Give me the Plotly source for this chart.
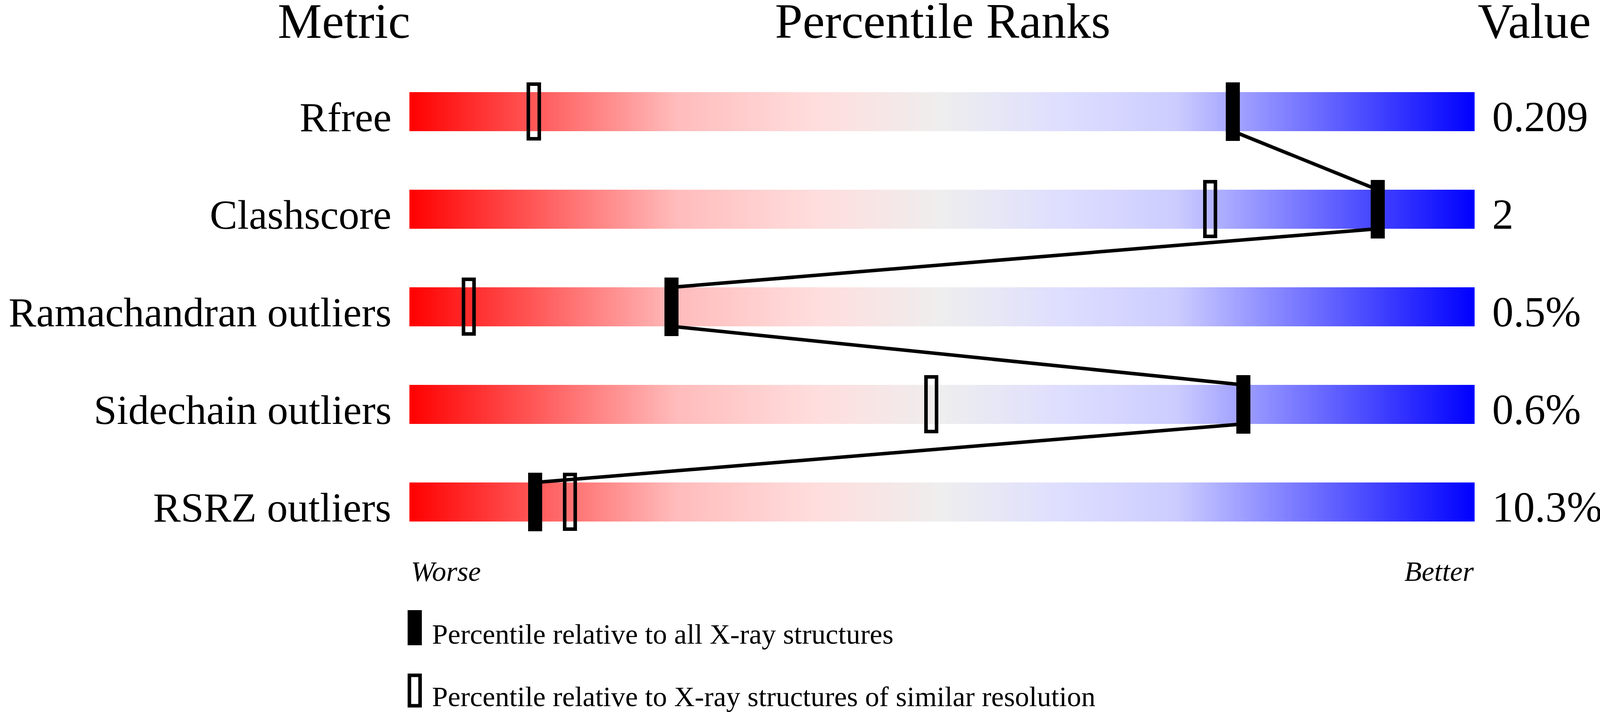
import numpy as np
import plotly.graph_objects as go

metrics = ["Rfree", "Clashscore", "Ramachandran outliers", "Sidechain outliers", "RSRZ outliers"]
values = ["0.209", "2", "0.5%", "0.6%", "10.3%"]
pct_all = [77.3, 90.9, 24.6, 78.3, 11.8]       # relative to all X-ray structures
pct_similar = [11.7, 75.2, 5.6, 49.0, 15.1]    # relative to similar resolution

RW, H = 4506, 1824
W = 4096
S = W / RW
FONT = "Liberation Serif"
rows = list(range(len(metrics)))

# gradient used in every slider
scale = [[0.0, "#ff0000"], [0.25, "#ffbbbb"], [0.38, "#ffdddd"], [0.5, "#eeeeee"],
         [0.62, "#ddddff"], [0.72, "#ccccff"], [1.0, "#0000ff"]]
edges = np.linspace(0, 100, 601)
mids = (edges[:-1] + edges[1:]) / 2

fig = go.Figure()
for r in rows:
    fig.add_trace(go.Heatmap(
        x=edges, y=[r - 0.2, r + 0.2], z=[mids],
        colorscale=scale, zmin=0, zmax=100, showscale=False, hoverinfo="skip",
    ))

# filled markers
fig.add_trace(go.Bar(
    x=pct_all, y=[0.6] * len(rows), base=[r - 0.3 for r in rows], width=40 / 30,
    marker=dict(color="black", line=dict(width=0)), hoverinfo="skip",
))
# open markers
fig.add_trace(go.Bar(
    x=pct_similar, y=[0.56] * len(rows), base=[r - 0.28 for r in rows], width=1.0,
    marker=dict(color="rgba(0,0,0,0)", line=dict(color="black", width=10 * S)),
    hoverinfo="skip",
))

# zig-zag line between the filled markers
lx, ly = [], []
for i in range(len(rows) - 1):
    lx += [pct_all[i], pct_all[i + 1]]
    ly += [rows[i] + 0.2, rows[i + 1] - 0.2]
fig.add_trace(go.Scatter(x=lx, y=ly, mode="lines", line=dict(color="black", width=9),
                         hoverinfo="skip"))


def py(px):
    return 1 - px / H


f_lab = 106
f_val = 120 * S
f_title = 140 * S
f_small = 80 * S

ann = []
for r, m, v in zip(rows, metrics, values):
    ann.append(dict(x=1104 / RW, xref="paper", y=r, yref="y", text=m, showarrow=False,
                    xanchor="right", yanchor="middle", yshift=-(50 - 0.3375 * f_lab),
                    font=dict(family=FONT, size=f_lab, color="black")))
    ann.append(dict(x=4200 / RW, xref="paper", y=r, yref="y", text=v, showarrow=False,
                    xanchor="left", yanchor="middle", yshift=-(50 - 0.3375 * f_val),
                    font=dict(family=FONT, size=f_val, color="black")))

for txt, cx in [("Metric", 969), ("Percentile Ranks", 2655), ("Value", 4321)]:
    ann.append(dict(x=cx / RW, xref="paper", y=py(97 - 0.3375 * f_title), yref="paper",
                    text=txt, showarrow=False, xanchor="center", yanchor="middle",
                    font=dict(family=FONT, size=f_title, color="black")))

ann.append(dict(x=1155 / RW, xref="paper", y=py(1488 - 0.3375 * f_small), yref="paper",
                text="Worse", showarrow=False, xanchor="left", yanchor="middle",
                font=dict(family=FONT, size=f_small, color="black", style="italic")))
ann.append(dict(x=4153 / RW, xref="paper", y=py(1488 - 0.3375 * f_small), yref="paper",
                text="Better", showarrow=False, xanchor="right", yanchor="middle",
                font=dict(family=FONT, size=f_small, color="black", style="italic")))

legend_txt = ["Percentile relative to all X-ray structures",
              "Percentile relative to X-ray structures of similar resolution"]
for txt, base in zip(legend_txt, [1649, 1809]):
    ann.append(dict(x=1214 / RW, xref="paper", y=py(base - 0.3375 * f_small), yref="paper",
                    text=txt, showarrow=False, xanchor="left", yanchor="middle",
                    font=dict(family=FONT, size=f_small, color="black")))

shapes = [
    dict(type="rect", xref="paper", yref="paper", x0=1148 / RW, x1=1188 / RW,
         y0=py(1653), y1=py(1563), fillcolor="black", line=dict(width=0)),
    dict(type="rect", xref="paper", yref="paper", x0=1153 / RW, x1=1183 / RW,
         y0=py(1808), y1=py(1730), fillcolor="white",
         line=dict(color="black", width=10 * S)),
]

fig.update_layout(
    width=W, height=H, margin=dict(l=0, r=0, t=0, b=0),
    paper_bgcolor="white", plot_bgcolor="white",
    showlegend=False, barmode="overlay", bargap=0,
    xaxis=dict(domain=[1153 / RW, 4153 / RW], range=[0, 100], visible=False, fixedrange=True),
    yaxis=dict(domain=[0, 1], range=[6.152, -1.144], visible=False, fixedrange=True),
    annotations=ann, shapes=shapes,
)

fig.write_html("out.html", config={"displayModeBar": False},
               post_script="document.body.style.margin = '0';")
